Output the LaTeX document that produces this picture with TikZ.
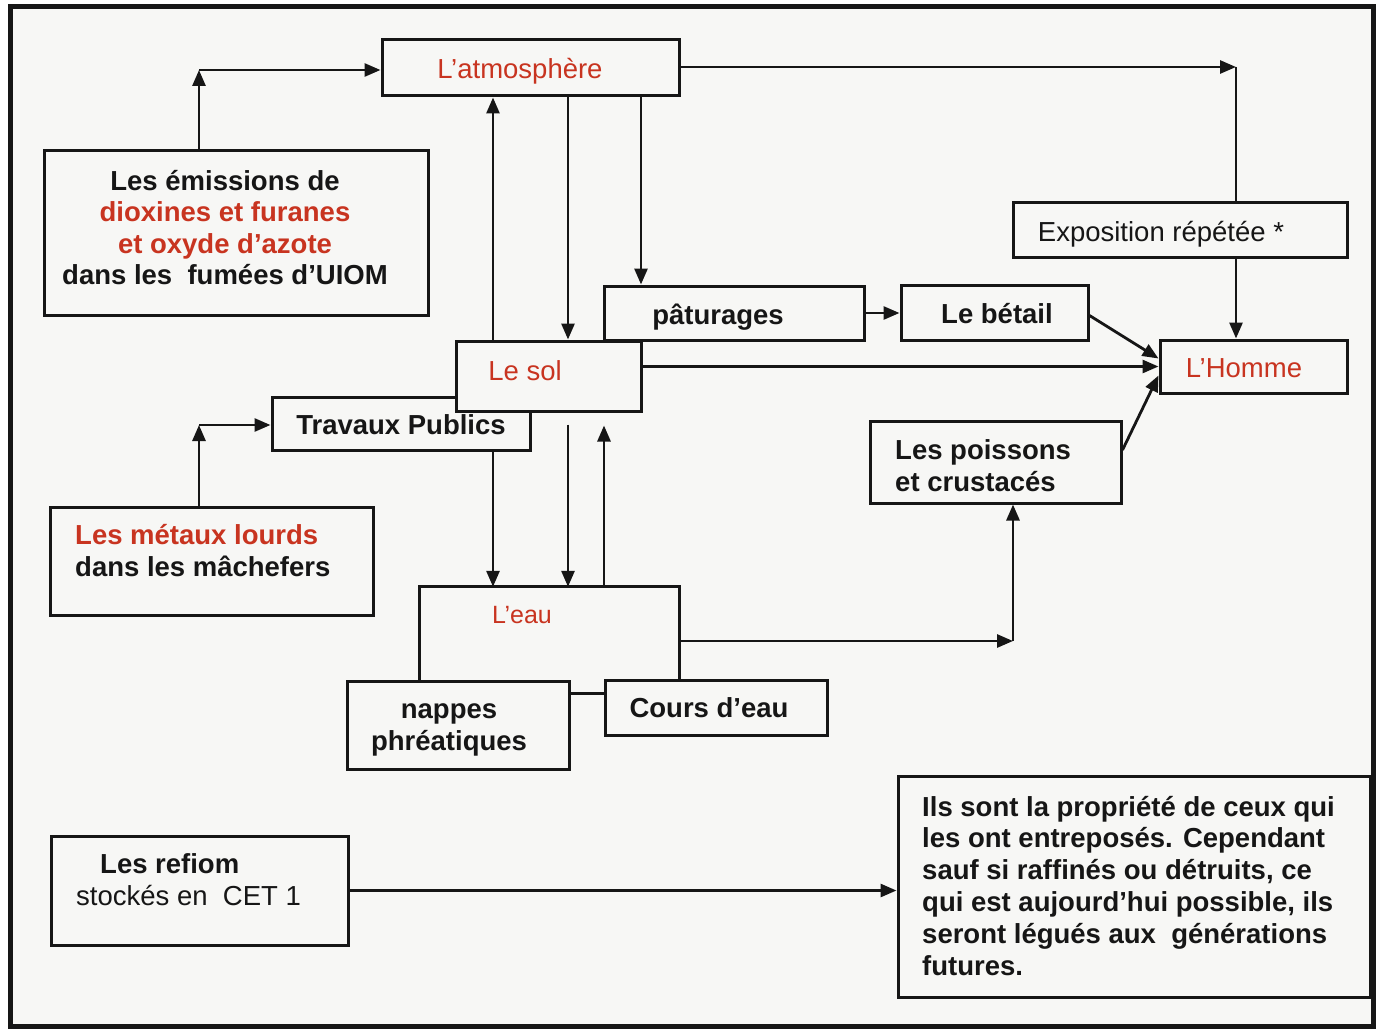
\documentclass[tikz,border=0pt]{standalone}
\usepackage{fontspec}
\setmainfont{Liberation Sans}
\usetikzlibrary{arrows.meta,fit,calc}
\definecolor{redt}{RGB}{200,52,32}
\definecolor{bg}{RGB}{247,247,245}
\definecolor{ink}{RGB}{22,22,22}
\begin{document}
\begin{tikzpicture}[x=1pt,y=-1pt,
  frame/.style={draw=ink, line width=5pt, fill=bg, inner sep=0pt},
  box/.style={draw=ink, line width=3pt, inner sep=0pt},
  boxline/.style={draw=ink, line width=3pt},
  ln/.style={draw=ink, line width=2.8pt},
  arr/.style={draw=ink, line width=2.8pt, -{Triangle[length=16pt,width=13pt]}},
  txt/.style={font=\fontsize{27.5}{31.5}\selectfont, text=ink, inner sep=0pt},
  btxt/.style={font=\fontsize{27.5}{31.5}\selectfont\bfseries, text=ink, inner sep=0pt},
  rtxt/.style={txt, text=redt}
]
\useasboundingbox (0,0) rectangle (1383,1030);
\fill[white] (0,0) rectangle (1383,1030);
\node[frame, fit={(10,7)(1373,1026)}] (frame) {};

% boxes
\node[box, fit={(382,40)(679,96)}] (atm) {};
\node[box, fit={(44,150)(428,315)}] (emi) {};
\node[box, fit={(1013,202)(1347,257)}] (expo) {};
\node[box, fit={(604,286)(864,340)}] (pat) {};
\node[box, fit={(901,285)(1088,340)}] (bet) {};
\node[box, fit={(1160,340)(1347,393)}] (hom) {};
\node[box, fit={(272,397)(530,450)}] (tra) {};
\node[box, fill=bg, fit={(456,341)(641,411)}] (sol) {};
\node[box, fit={(870,421)(1121,503)}] (poi) {};
\node[box, fit={(50,507)(373,615)}] (met) {};
\node[inner sep=0pt, fit={(420,587)(679,681)}] (eau) {};
\draw[boxline] (eau.south west) -- (eau.north west) -- (eau.north east) -- (eau.south east);
\node[box, fit={(347,681)(569,769)}] (nap) {};
\node[box, fit={(605,680)(827,735)}] (cou) {};
\node[box, fit={(51,836)(348,945)}] (ref) {};
\node[box, fit={(898,776)(1370,997)}] (ils) {};

% helper coordinates
\coordinate (x493) at (493,0);
\coordinate (x568) at (568,0);
\coordinate (x604) at (604,0);
\coordinate (x641) at (641,0);
\coordinate (c1) at (199,70);
\coordinate (c2) at (1236,67);
\coordinate (c3) at (199,425);
\coordinate (c4) at (1013,641);

% connectors
\draw[arr] (emi.north -| c1) -- (c1);
\draw[arr] (c1) -- (c1 -| atm.west);
\draw[arr] (atm.east |- c2) -- (c2);
\draw[ln] (c2) -- (expo.north -| c2);
\draw[arr] (expo.south -| c2) -- (hom.north -| c2);
\draw[arr] (sol.north -| x493) -- (atm.south -| x493);
\draw[arr] (atm.south -| x568) -- (sol.north -| x568);
\draw[arr] (atm.south -| x641) -- (pat.north -| x641);
\draw[arr] (pat.east) -- (pat.east -| bet.west);
\draw[arr] ([yshift=-3pt]bet.east) -- ([yshift=8pt]hom.west);
\draw[arr] (sol.east |- hom.west) -- (hom.west);
\draw[arr] ([yshift=12pt]poi.east) -- ([yshift=-9pt]hom.west);
\draw[arr] (met.north -| c3) -- (c3);
\draw[arr] (c3) -- (c3 -| tra.west);
\draw[arr] (tra.south -| x493) -- (eau.north -| x493);
\draw[arr, shorten <=12pt] (sol.south -| x568) -- (eau.north -| x568);
\draw[arr, shorten >=13pt] (eau.north -| x604) -- (sol.south -| x604);
\draw[arr] (eau.east |- c4) -- (c4);
\draw[arr] (c4) -- (poi.south -| c4);
\draw[ln] ([yshift=-14pt]nap.north east) -- ([yshift=-14pt]nap.north east -| cou.west);
\draw[arr] (ref.east) -- (ref.east -| ils.west);

% texts (multi-line nodes anchored at the baseline of their last line)
\node[rtxt, anchor=base] (atm-t) at (520,79) {L’atmosphère};
\node[btxt, align=center, anchor=base] (emi-t) at (225,284.5)
  {Les émissions de\\\textcolor{redt}{dioxines et furanes}\\\textcolor{redt}{et oxyde d’azote}\\dans les\ \ fumées d’UIOM};
\node[txt, anchor=base] (expo-t) at (1161,241) {Exposition répétée *};
\node[btxt, anchor=base] (pat-t) at (718,324) {pâturages};
\node[btxt, anchor=base] (bet-t) at (997,323) {Le bétail};
\node[rtxt, anchor=base] (hom-t) at (1244,377) {L’Homme};
\node[rtxt, anchor=base] (sol-t) at (525,380) {Le sol};
\node[btxt, anchor=base] (tra-t) at (401,434) {Travaux Publics};
\node[btxt, align=left, anchor=base west] (poi-t) at (895,491) {Les poissons\\et crustacés};
\node[btxt, align=left, anchor=base west] (met-t) at (75,576) {\textcolor{redt}{Les métaux lourds}\\dans les mâchefers};
\node[rtxt, font=\fontsize{25}{30}\selectfont, anchor=base] (eau-t) at (522,623) {L’eau};
\node[btxt, align=center, anchor=base] (nap-t) at (449,750) {nappes\\phréatiques};
\node[btxt, anchor=base] (cou-t) at (709,717) {Cours d’eau};
\node[btxt, anchor=base west] (ref-t1) at (100,873) {Les refiom};
\node[txt, anchor=base west] (ref-t2) at (76,905) {stockés en\ \ CET 1};
\node[btxt, font=\fontsize{27.5}{31.8}\selectfont\bfseries, align=left, anchor=base west] (ils-t) at (922,975)
  {Ils sont la propriété de ceux qui\\les ont entreposés. Cependant\\sauf si raffinés ou détruits, ce\\qui est aujourd’hui possible, ils\\seront légués aux\ \ générations\\futures.};
\end{tikzpicture}
\end{document}
